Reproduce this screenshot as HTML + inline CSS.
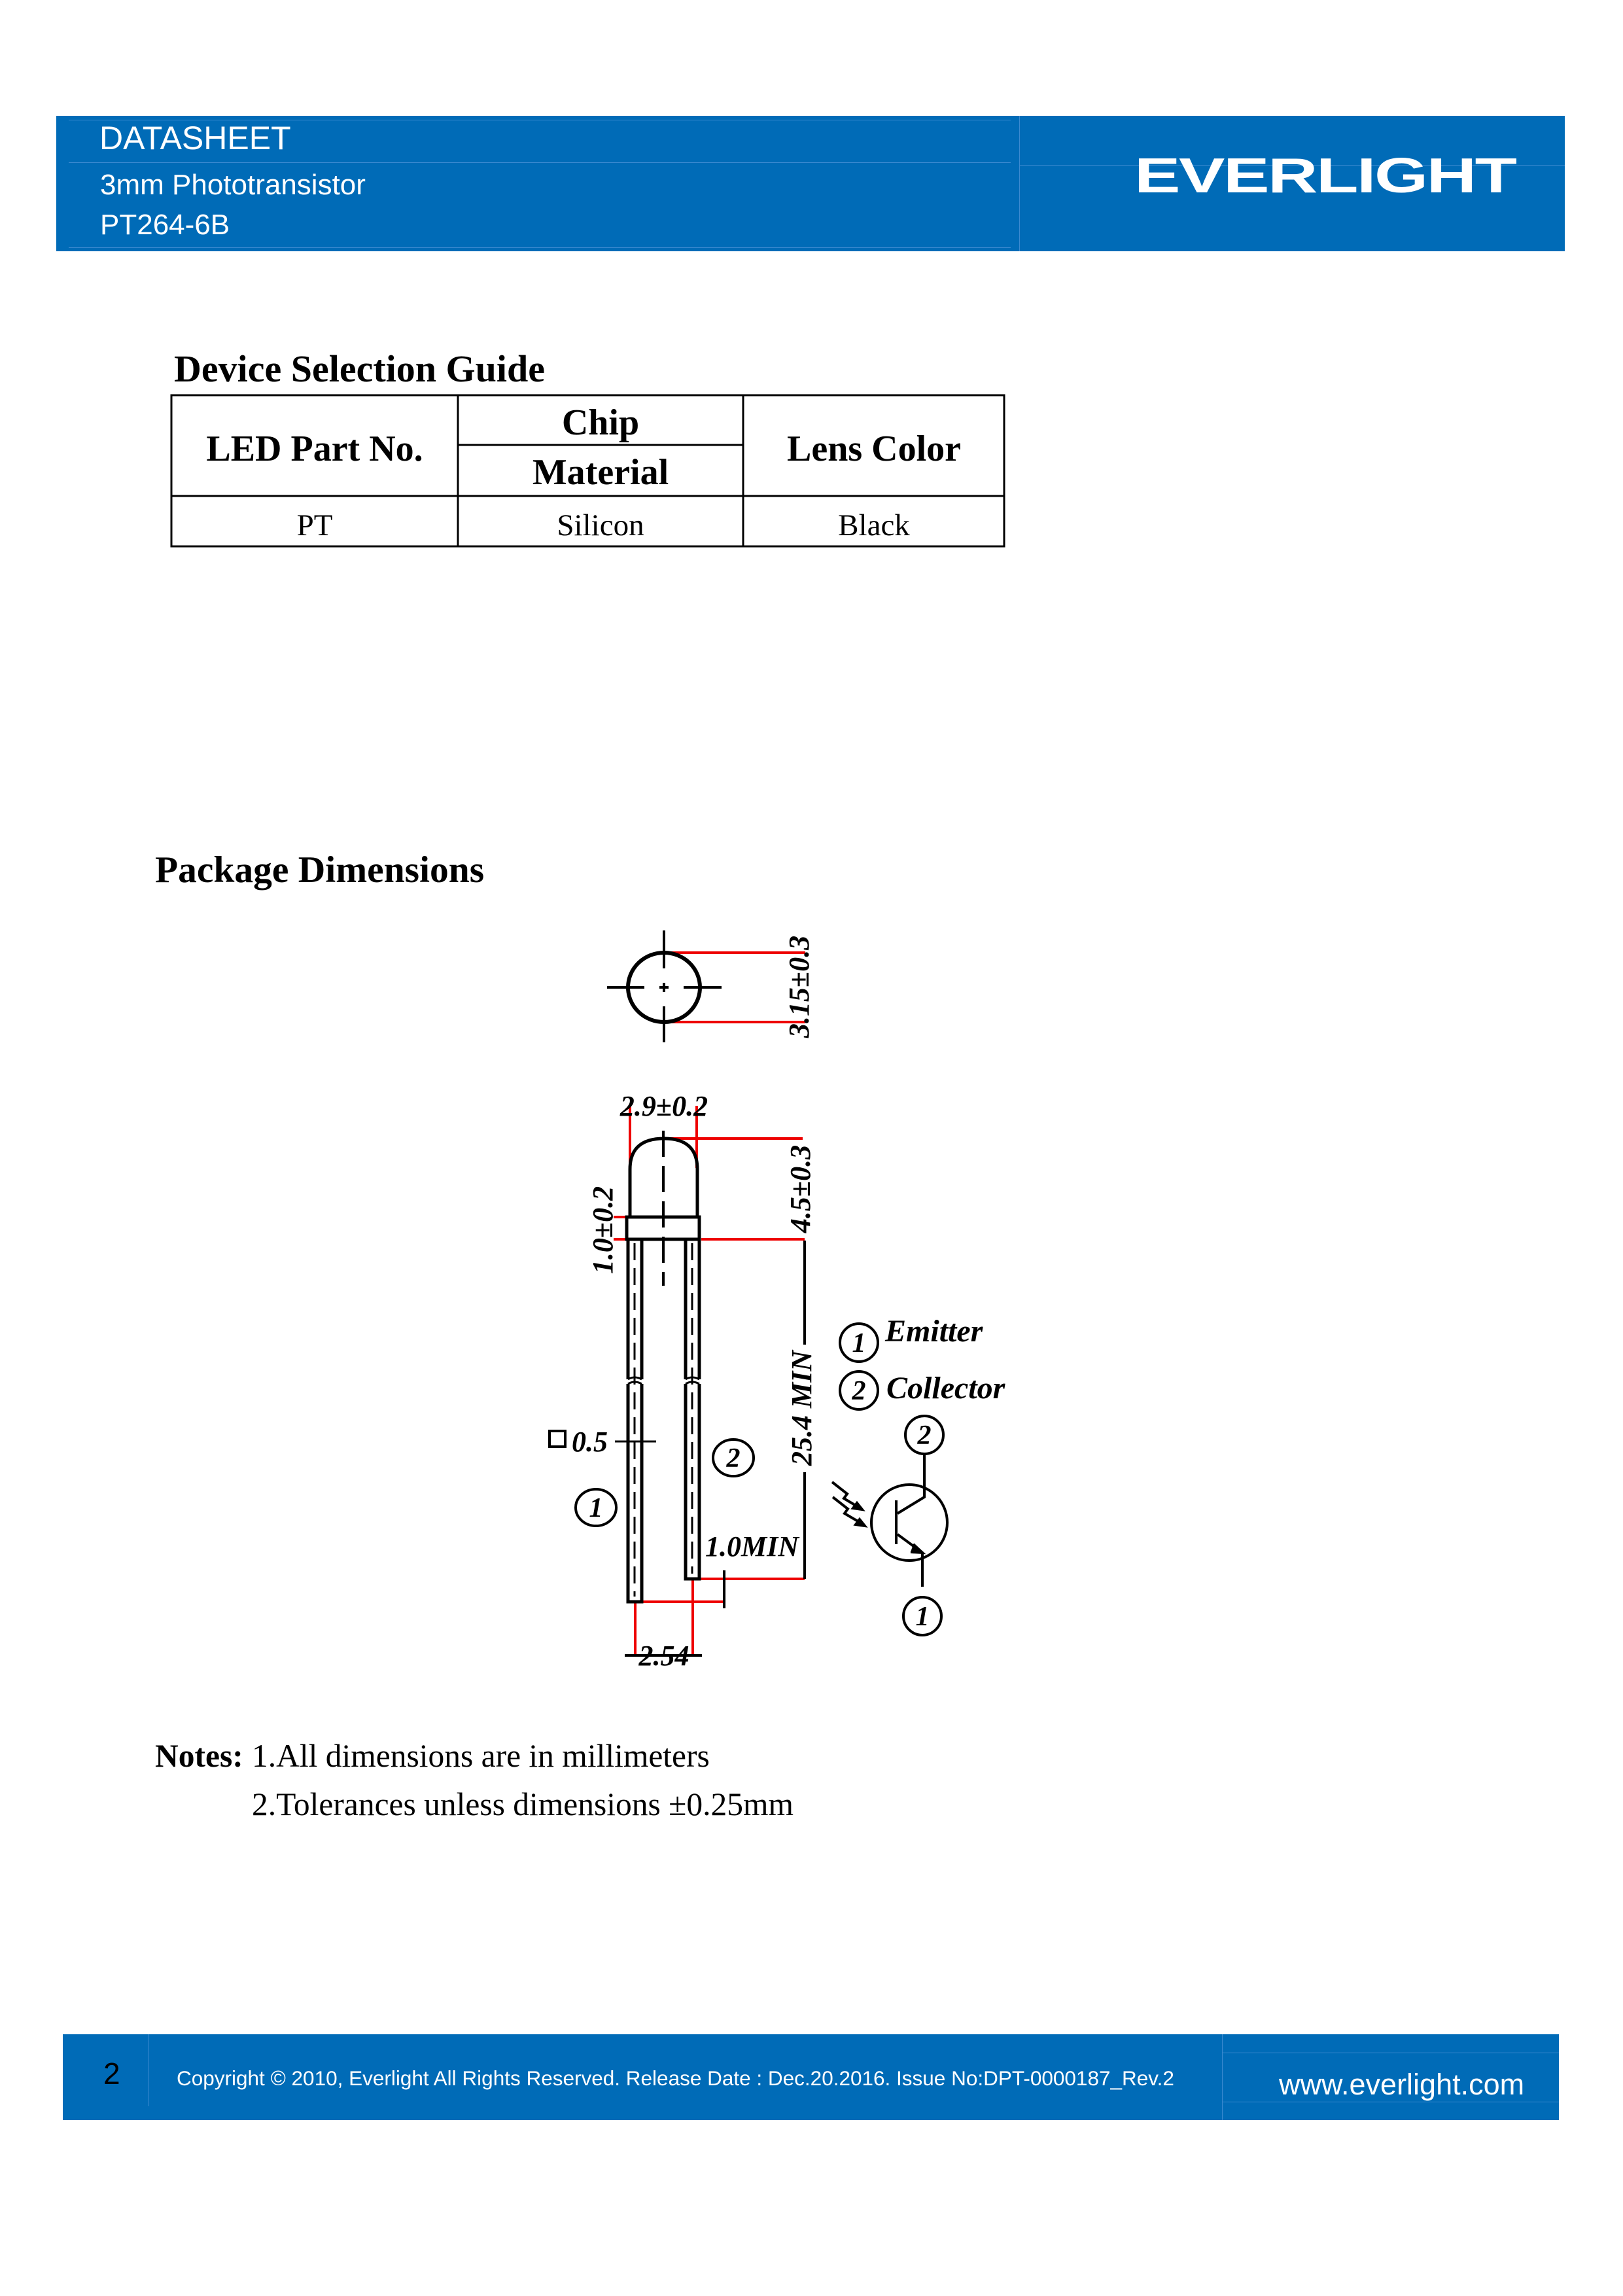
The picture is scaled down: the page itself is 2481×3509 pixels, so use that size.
<!DOCTYPE html>
<html><head><meta charset="utf-8"><style>
html,body{margin:0;padding:0;background:#fff}
body{width:2481px;height:3509px;position:relative;overflow:hidden}
.a{position:absolute;white-space:nowrap}
.hs{font-family:"Liberation Sans",sans-serif;color:#fff}
.sf{font-family:"Liberation Serif",serif;color:#000}
</style></head><body>
<div class="a" style="left:86px;top:177px;width:2306px;height:207px;background:#006bb7"></div>
<div class="a" style="left:105px;top:183px;width:1440px;height:1px;background:#3b8ad0"></div>
<div class="a" style="left:105px;top:248px;width:1440px;height:1px;background:#3b8ad0"></div>
<div class="a" style="left:105px;top:378px;width:1440px;height:1px;background:#3b8ad0"></div>
<div class="a" style="left:1558px;top:177px;width:1px;height:207px;background:#3b8ad0"></div>
<div class="a" style="left:1558px;top:252px;width:834px;height:1px;background:#3b8ad0"></div>
<div class="a hs" style="left:152px;top:182px;font-size:50px">DATASHEET</div>
<div class="a hs" style="left:153px;top:258px;font-size:44px">3mm Phototransistor</div>
<div class="a hs" style="left:153px;top:319px;font-size:44px">PT264-6B</div>
<div class="a hs" style="left:1734px;top:225px;font-size:88px;font-weight:bold;letter-spacing:-2px;transform:scale(1.2,0.85);transform-origin:top left">EVERLIGHT</div>

<div class="a sf" style="left:266px;top:530px;font-size:58px;font-weight:bold">Device Selection Guide</div>
<svg class="a" style="left:0;top:0" width="2481" height="3509">
<g stroke="#000" stroke-width="3" fill="none">
<rect x="262" y="604" width="1273" height="231"/>
<line x1="262" y1="758" x2="1535" y2="758"/>
<line x1="700" y1="604" x2="700" y2="835"/>
<line x1="1136" y1="604" x2="1136" y2="835"/>
<line x1="700" y1="680" x2="1136" y2="680"/>
</g>
<g font-family="Liberation Serif,serif" text-anchor="middle" font-size="56" font-weight="bold">
<text x="481" y="704">LED Part No.</text>
<text x="918" y="664">Chip</text>
<text x="918" y="740">Material</text>
<text x="1336" y="704">Lens Color</text>
</g>
<g font-family="Liberation Serif,serif" text-anchor="middle" font-size="47">
<text x="481" y="818">PT</text><text x="918" y="818">Silicon</text><text x="1336" y="818">Black</text>
</g>
<text x="237" y="1348" font-family="Liberation Serif,serif" font-size="57.5" font-weight="bold">Package Dimensions</text>

<g stroke="#e00" stroke-width="4">
<line x1="1015" y1="1456" x2="1231" y2="1456"/><line x1="1015" y1="1562" x2="1231" y2="1562"/>
<line x1="963" y1="1690" x2="963" y2="1785"/><line x1="1065" y1="1690" x2="1065" y2="1785"/>
<line x1="1018" y1="1740" x2="1227" y2="1740"/><line x1="1072" y1="1894" x2="1230" y2="1894"/>
<line x1="938" y1="1860" x2="958" y2="1860"/><line x1="938" y1="1894" x2="958" y2="1894"/>
<line x1="1069" y1="2413" x2="1230" y2="2413"/><line x1="983" y1="2448" x2="1107" y2="2448"/>
<line x1="971" y1="2448" x2="971" y2="2530"/><line x1="1059" y1="2413" x2="1059" y2="2530"/>
</g>
<g stroke="#000" stroke-width="4" fill="none">
<ellipse cx="1015" cy="1509" rx="55" ry="53" stroke-width="6"/>
<line x1="928" y1="1509" x2="985" y2="1509"/><line x1="1045" y1="1509" x2="1103" y2="1509"/>
<line x1="1008" y1="1509" x2="1022" y2="1509"/><line x1="1015" y1="1502" x2="1015" y2="1516"/>
<line x1="1015" y1="1422" x2="1015" y2="1480"/><line x1="1015" y1="1538" x2="1015" y2="1593"/>
<path d="M963 1860 V1787 Q963 1740 1015 1740 Q1066 1740 1066 1787 V1860" stroke-width="5"/>
<rect x="958" y="1860" width="111" height="34" stroke-width="5"/>
<line x1="1014" y1="1728" x2="1014" y2="1965" stroke-dasharray="40,14"/>
<path d="M960 1894 V2108 M981 1894 V2108 M960 2115 V2448 H981 V2115" stroke-width="5"/>
<path d="M1048 1894 V2108 M1069 1894 V2108 M1048 2115 V2413 H1069 V2115" stroke-width="5"/>
<path d="M960 2108 q10 -6 21 0 M960 2115 q10 -6 21 0 M1048 2108 q10 -6 21 0 M1048 2115 q10 -6 21 0" stroke-width="3"/>
<line x1="970" y1="1900" x2="970" y2="2440" stroke-dasharray="26,12" stroke-width="3"/>
<line x1="1058" y1="1900" x2="1058" y2="2405" stroke-dasharray="26,12" stroke-width="3"/>
<line x1="1230" y1="1896" x2="1230" y2="2055"/><line x1="1230" y1="2250" x2="1230" y2="2413"/>
<line x1="1107" y1="2400" x2="1107" y2="2458"/>
<line x1="955" y1="2530" x2="1073" y2="2530"/>
<line x1="940" y1="2203" x2="1003" y2="2203" stroke-width="3"/>
<rect x="840" y="2187" width="24" height="24" stroke-width="4"/>
<ellipse cx="911" cy="2304" rx="31" ry="28"/>
<ellipse cx="1121" cy="2228" rx="31" ry="28"/>
<circle cx="1313" cy="2052" r="29"/><circle cx="1313" cy="2125" r="29"/>
<circle cx="1413" cy="2193" r="29"/><circle cx="1410" cy="2470" r="29"/>
<circle cx="1390" cy="2327" r="58"/>
<path d="M1413 2222 V2288 L1372 2313 M1370 2293 V2360 M1372 2345 L1410 2373 V2425"/>
<path d="M1396 2360 L1410 2373 L1392 2372" fill="#000"/>
<path d="M1272 2265 L1295 2283 L1290 2290 L1315 2305 M1273 2288 L1296 2306 L1291 2313 L1320 2330"/>
<path d="M1318 2307 l-14 -2 l6 -8 z M1322 2332 l-14 -2 l6 -8 z" fill="#000"/>
</g>
<g font-family="Liberation Serif,serif" font-style="italic" font-weight="bold" fill="#000">
<text x="1226" y="1508" font-size="44" transform="rotate(-90 1226 1508)" text-anchor="middle" dominant-baseline="middle">3.15±0.3</text>
<text x="1015" y="1705" font-size="44" text-anchor="middle">2.9±0.2</text>
<text x="1228" y="1817" font-size="44" transform="rotate(-90 1228 1817)" text-anchor="middle" dominant-baseline="middle">4.5±0.3</text>
<text x="926" y="1880" font-size="44" transform="rotate(-90 926 1880)" text-anchor="middle" dominant-baseline="middle">1.0±0.2</text>
<text x="1230" y="2152" font-size="44" transform="rotate(-90 1230 2152)" text-anchor="middle" dominant-baseline="middle">25.4 MIN</text>
<text x="1078" y="2378" font-size="44">1.0MIN</text>
<text x="1015" y="2545" font-size="44" text-anchor="middle">2.54</text>
<text x="874" y="2218" font-size="44">0.5</text>
<g font-size="42" text-anchor="middle"><text x="911" y="2318">1</text><text x="1121" y="2242">2</text>
<text x="1313" y="2066">1</text><text x="1313" y="2139">2</text><text x="1413" y="2207">2</text><text x="1410" y="2484">1</text></g>
<text x="1353" y="2050" font-size="48">Emitter</text>
<text x="1355" y="2137" font-size="48">Collector</text>
</g>
<text x="237" y="2700" font-family="Liberation Serif,serif" font-size="49.5" font-weight="bold">Notes:</text>
<text x="385" y="2700" font-family="Liberation Serif,serif" font-size="49.5">1.All dimensions are in millimeters</text>
<text x="385" y="2774" font-family="Liberation Serif,serif" font-size="49.5">2.Tolerances unless dimensions ±0.25mm</text>
</svg>

<div class="a" style="left:96px;top:3109px;width:2287px;height:131px;background:#006bb7"></div>
<div class="a" style="left:1868px;top:3109px;width:1px;height:131px;background:#3b8ad0"></div>
<div class="a" style="left:1868px;top:3137px;width:515px;height:1px;background:#3b8ad0"></div>
<div class="a" style="left:1868px;top:3212px;width:515px;height:1px;background:#3b8ad0"></div>
<div class="a" style="left:226px;top:3109px;width:1px;height:110px;background:#3b8ad0"></div>
<div class="a" style="left:158px;top:3142px;font-family:'Liberation Sans',sans-serif;font-size:46px;color:#000">2</div>
<div class="a hs" style="left:270px;top:3158px;font-size:31.5px">Copyright © 2010, Everlight All Rights Reserved. Release Date : Dec.20.2016. Issue No:DPT-0000187_Rev.2</div>
<div class="a hs" style="left:1955px;top:3160px;font-size:45px">www.everlight.com</div>
</body></html>
